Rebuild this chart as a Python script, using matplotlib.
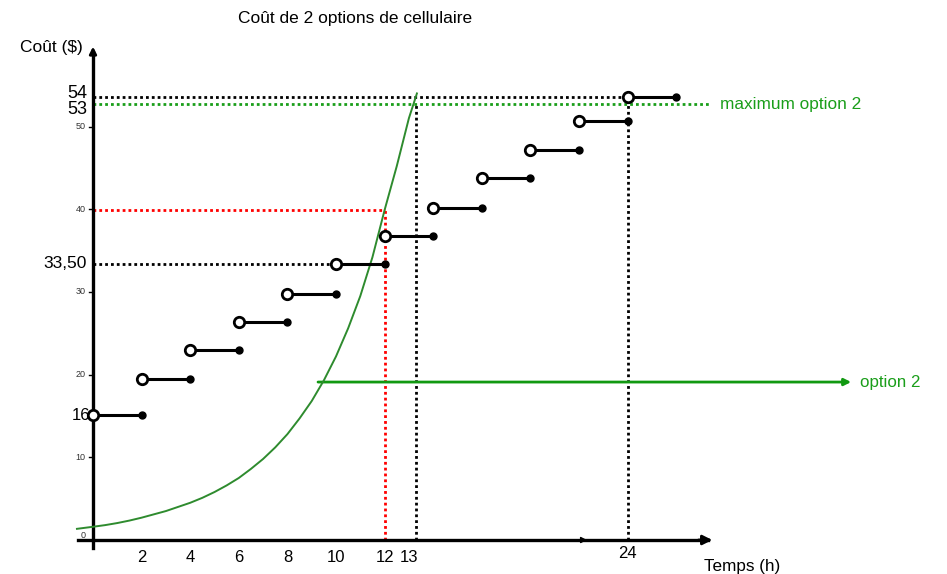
import matplotlib
matplotlib.use("Agg")
import matplotlib.pyplot as plt
import numpy as np

plt.rcParams['font.family'] = ['Liberation Sans', 'DejaVu Sans']

# Option 1 : paliers (début, fin, coût)
step_start = [0, 2, 4, 6, 8, 10, 12, 14, 16, 18, 20, 22]
step_end = [2, 4, 6, 8, 10, 12, 14, 16, 18, 20, 22, 24]
step_cost = [15.1, 19.5, 23.0, 26.4, 29.8, 33.4, 36.8, 40.2, 43.8, 47.2, 50.7, 53.6]

# Option 2 : courbe
curve_x = [-0.66, 0, 0.5, 1, 1.5, 2, 2.5, 3, 3.5, 4, 4.5, 5, 5.5, 6, 6.5, 7, 7.5,
           8, 8.5, 9, 9.5, 10, 10.5, 11, 11.5, 12, 12.5, 13, 13.33]
curve_y = [1.35, 1.6, 1.8, 2.05, 2.35, 2.7, 3.1, 3.5, 4.0, 4.5, 5.1, 5.8, 6.6, 7.5, 8.6,
           9.8, 11.2, 12.8, 14.7, 16.8, 19.3, 22.2, 25.6, 29.5, 34.2, 39.9, 45.2, 51.0, 54.0]

x_ticks = [2, 4, 6, 8, 10, 12, 13]
x_tick_labels = ['2', '4', '6', '8', '10', '12', '13']
y_ticks = [0, 10, 20, 30, 40, 50]

# valeurs repères
cost_54 = 53.6
max_option2 = 52.7
cost_33 = 33.4
cost_40 = 39.9
t_24 = 22   # position du repère "24" sur l'axe coupé
option2_start = (9.26, 19.1)

green_dark = '#2e8b2e'
green = '#1a9e1a'

fig = plt.figure(figsize=(9.47, 5.74), dpi=100)
ax = fig.add_axes([0, 0, 1, 1])
ax.set_xlim(-93 / 24.3, (947 - 93) / 24.3)
ax.set_ylim(-(574 - 540) / 8.27, 540 / 8.27)
ax.axis('off')

# axes
ax.plot([-0.6, 25.3], [0, 0], color='black', lw=2.4, zorder=3)
ax.annotate('', xy=(25.6, 0), xytext=(24.8, 0),
            arrowprops=dict(arrowstyle='-|>', color='black', lw=2, mutation_scale=14))
ax.annotate('', xy=(20.45, 0), xytext=(19.8, 0),
            arrowprops=dict(arrowstyle='-|>', color='black', lw=1, mutation_scale=9))
ax.plot([0, 0], [-1, 59], color='black', lw=2.4, zorder=3)
ax.annotate('', xy=(0, 60), xytext=(0, 58.5),
            arrowprops=dict(arrowstyle='-|>', color='black', lw=2, mutation_scale=10))

# graduations
for yt in y_ticks:
    ax.plot([-0.17, 0], [yt, yt], color='black', lw=1)
    ax.text(-0.3, yt + (0.6 if yt == 0 else 0), str(yt), fontsize=6.5, color='#333333',
            ha='right', va='center')
for xt, lab in zip(x_ticks, x_tick_labels):
    ax.text(xt, -2.1, lab, fontsize=12, ha='center', va='center')
ax.text(t_24, -1.6, '24', fontsize=12, ha='center', va='center')

ax.text(-0.25, cost_54 + 0.4, '54', fontsize=13, ha='right', va='center')
ax.text(-0.25, max_option2 - 0.6, '53', fontsize=13, ha='right', va='center')
ax.text(-0.25, cost_33, '33,50', fontsize=12.5, ha='right', va='center')
ax.text(-0.12, step_cost[0], '16', fontsize=12, ha='right', va='center')

# lignes pointillées
dots = (0, (1, 1.1))
ax.plot([0, t_24], [cost_54, cost_54], color='black', lw=2, ls=dots)
ax.plot([t_24, t_24], [0, cost_54], color='black', lw=2, ls=dots)
ax.plot([0, 25.4], [max_option2, max_option2], color=green, lw=2, ls=dots)
ax.plot([0, 12], [cost_33, cost_33], color='black', lw=2, ls=dots)
ax.plot([0, 12], [cost_40, cost_40], color='red', lw=2, ls=dots)
ax.plot([12, 12], [0, cost_40], color='red', lw=2, ls=dots)
ax.plot([13.3, 13.3], [0, max_option2], color='black', lw=2, ls=dots)

# option 2
ax.plot(curve_x, curve_y, color=green_dark, lw=1.4, zorder=4)
ax.annotate('', xy=(31.2, option2_start[1]), xytext=option2_start,
            arrowprops=dict(arrowstyle='-|>', color='#119911', lw=2, mutation_scale=10,
                            shrinkA=0, shrinkB=0))
ax.text(31.55, option2_start[1], 'option 2', fontsize=12.2, color=green, ha='left', va='center')
ax.text(25.8, max_option2, 'maximum option 2', fontsize=12.4, color=green, ha='left', va='center')

# option 1 : fonction en escalier
for s, e, c in zip(step_start, step_end, step_cost):
    ax.plot([s, e], [c, c], color='black', lw=2.2, zorder=5)
    ax.plot(e, c, 'o', color='black', ms=5, zorder=6)
    ax.plot(s, c, 'o', mfc='white', mec='black', mew=2, ms=7.5, zorder=7)

# titres
ax.text(10.8, 63.1, 'Coût de 2 options de cellulaire', fontsize=12.5, ha='center', va='center')
ax.text(-1.7, 59.5, 'Coût ($)', fontsize=12.5, ha='center', va='center')
ax.text(26.7, -3.2, 'Temps (h)', fontsize=12.3, ha='center', va='center')

fig.savefig('out.png', dpi=100)
